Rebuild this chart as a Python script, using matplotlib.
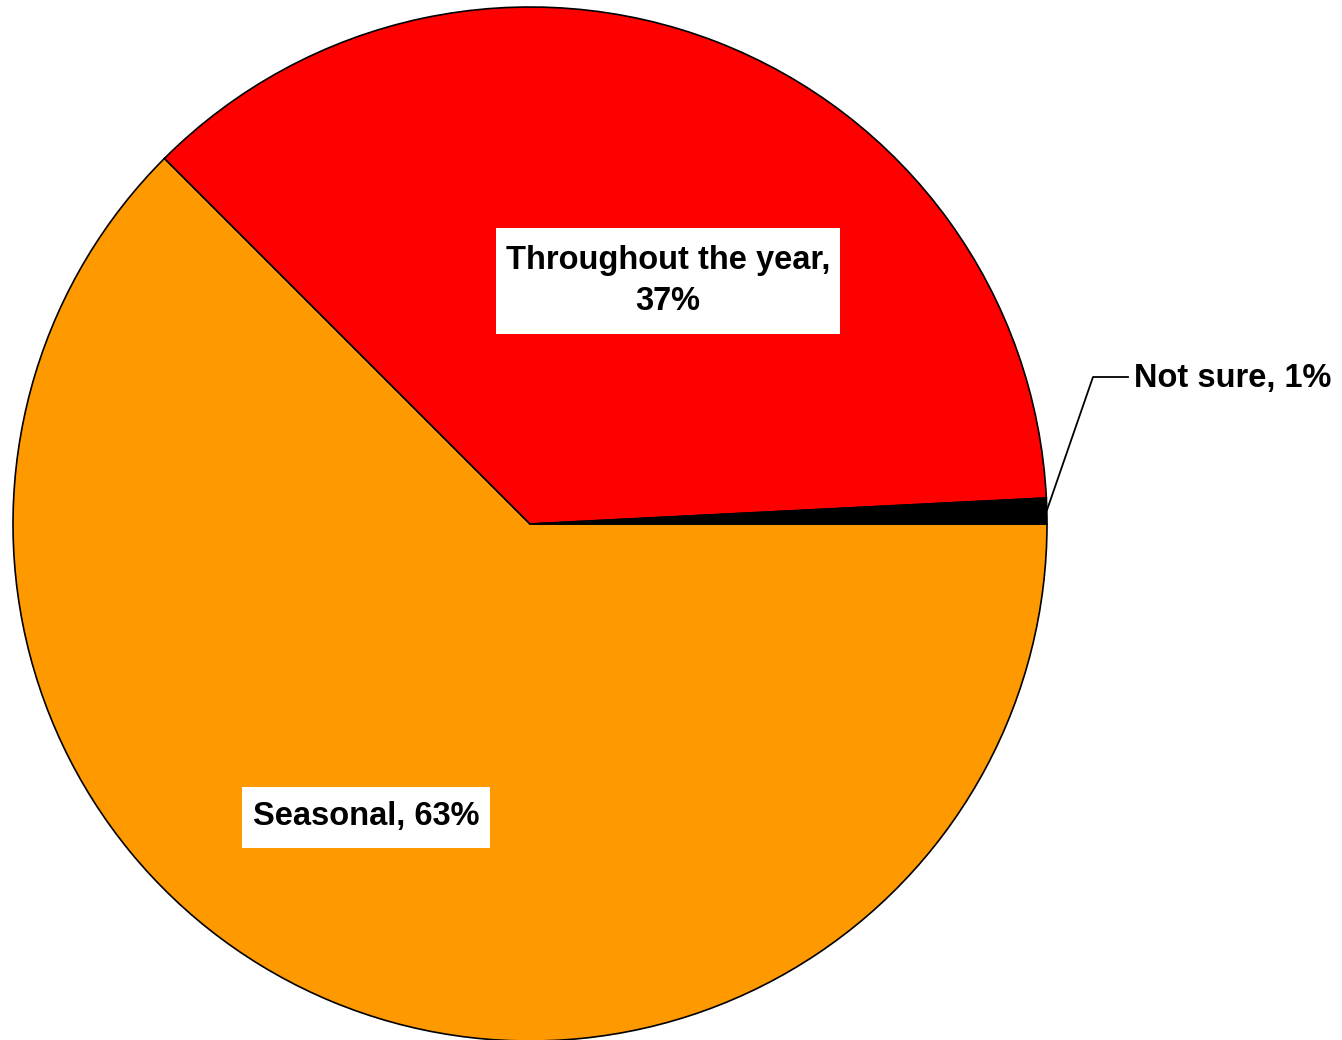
import matplotlib
matplotlib.use("Agg")
import matplotlib.pyplot as plt
from matplotlib.patches import Rectangle
import numpy as np

categories = ["Seasonal", "Throughout the year", "Not sure"]
shares = [62.5, 36.7, 0.8]          # slice sizes
label_pct = [63, 37, 1]             # percentages printed on the labels
colors = ["#FF9900", "#FF0000", "#000000"]

plt.rcParams['font.family'] = ['Liberation Sans', 'DejaVu Sans']

W, H = 1342, 1040
fig = plt.figure(figsize=(W / 100, H / 100), dpi=100)
ax = fig.add_axes([0, 0, 1, 1])

cx, cy, R = 530, 524, 517
wedges, _ = ax.pie(shares, colors=colors, startangle=0, counterclock=False,
                   radius=1.0, wedgeprops=dict(edgecolor="black", linewidth=1.2))
ax.set_aspect('auto')
ax.set_xlim(-cx / R, (W - cx) / R)
ax.set_ylim(-(H - cy) / R, cy / R)
ax.axis('off')

def px(x, y):
    return (x - cx) / R, (cy - y) / R

fs = 23.5

x, y = px(668, 281)
t1 = ax.text(x, y, f"{categories[1]},\n{label_pct[1]}%", ha="center", va="center",
             fontsize=fs, fontweight="bold", linespacing=1.4, zorder=5)

x, y = px(366, 817)
t2 = ax.text(x, y, f"{categories[0]}, {label_pct[0]}%", ha="center", va="center",
             fontsize=fs, fontweight="bold", zorder=5)

# white label boxes sized around the text
fig.canvas.draw()
renderer = fig.canvas.get_renderer()
inv = ax.transData.inverted()
for t, hpad, vpad in [(t1, 10, 17), (t2, 11, 15)]:
    bb = t.get_window_extent(renderer)
    (x0, y0) = inv.transform((bb.x0 - hpad, bb.y0 - vpad))
    (x1, y1) = inv.transform((bb.x1 + hpad, bb.y1 + vpad))
    ax.add_patch(Rectangle((x0, y0), x1 - x0, y1 - y0, facecolor="white",
                           edgecolor="none", zorder=4))

# Not sure label with leader line
p0 = px(1047, 510)
p1 = px(1093, 377)
p2 = px(1128, 377)
ax.plot([p0[0], p1[0], p2[0]], [p0[1], p1[1], p2[1]], color="black", lw=1.3)
x, y = px(1134, 378)
ax.text(x, y, f"{categories[2]}, {label_pct[2]}%", ha="left", va="center",
        fontsize=fs, fontweight="bold")

fig.savefig("out.png", dpi=100, facecolor="white")
